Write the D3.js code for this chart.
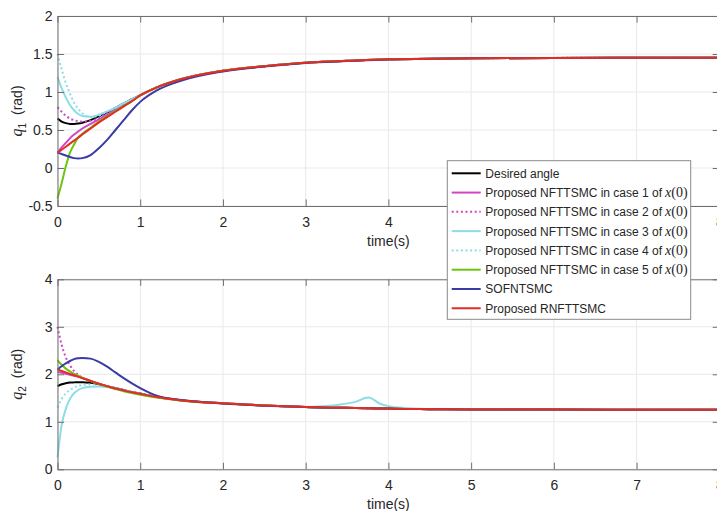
<!DOCTYPE html>
<html>
<head>
<meta charset="utf-8">
<script src="https://cdn.jsdelivr.net/npm/d3@7"></script>
<style>
  html, body { margin: 0; padding: 0; background: #fff; }
  svg { display: block; }
  text { font-family: "Liberation Sans", Arial, Helvetica, sans-serif; fill: #262626; }
</style>
</head>
<body>
<svg id="chart" width="717" height="511"></svg>
<script>
// ---- time samples (s) ----
const tTop = [0, 0.05, 0.1, 0.15, 0.2, 0.25, 0.3, 0.4, 0.5, 0.6, 0.7, 0.8, 0.9, 1.0,
              1.2, 1.5, 2, 2.5, 3, 3.5, 4, 5, 6, 7, 8];
const tBot = [0, 0.05, 0.1, 0.15, 0.2, 0.25, 0.3, 0.4, 0.5, 0.6, 0.7, 0.8, 0.9, 1.0,
              1.2, 1.5, 2, 2.5, 3, 3.2, 3.4, 3.6, 3.76, 3.9, 4, 4.2, 4.5, 5, 6, 7, 8];

// ---- joint 1 angle q1 (rad) ----
const q1Desired = [0.65, 0.61, 0.59, 0.58, 0.58, 0.585, 0.595, 0.63, 0.68, 0.73, 0.79, 0.85, 0.905, 0.96,
                   1.06, 1.17, 1.28, 1.34, 1.386, 1.41, 1.43, 1.443, 1.449, 1.451, 1.452];
const q1Case1   = [0.2, 0.27, 0.33, 0.39, 0.44, 0.48, 0.52, 0.58, 0.64, 0.70, 0.76, 0.82, 0.89, 0.955,
                   1.06, 1.17, 1.28, 1.34, 1.386, 1.41, 1.43, 1.443, 1.449, 1.451, 1.452];
const q1Case2   = [0.8, 0.74, 0.69, 0.65, 0.63, 0.615, 0.61, 0.62, 0.66, 0.72, 0.78, 0.84, 0.90, 0.96,
                   1.06, 1.17, 1.28, 1.34, 1.386, 1.41, 1.43, 1.443, 1.449, 1.451, 1.452];
const q1Case3   = [1.2, 1.05, 0.93, 0.83, 0.76, 0.71, 0.685, 0.675, 0.70, 0.745, 0.795, 0.85, 0.905, 0.96,
                   1.06, 1.17, 1.28, 1.34, 1.386, 1.41, 1.43, 1.443, 1.449, 1.451, 1.452];
const q1Case4   = [1.5, 1.30, 1.12, 0.98, 0.86, 0.78, 0.72, 0.67, 0.69, 0.74, 0.79, 0.85, 0.905, 0.96,
                   1.06, 1.17, 1.28, 1.34, 1.386, 1.41, 1.43, 1.443, 1.449, 1.451, 1.452];
const q1Case5   = [-0.4, -0.2, 0.02, 0.2, 0.31, 0.40, 0.45, 0.53, 0.61, 0.68, 0.75, 0.815, 0.88, 0.955,
                   1.06, 1.17, 1.28, 1.34, 1.386, 1.41, 1.43, 1.443, 1.449, 1.451, 1.452];
const q1Sofntsmc = [0.2, 0.185, 0.165, 0.145, 0.13, 0.125, 0.13, 0.17, 0.26, 0.37, 0.50, 0.63, 0.76, 0.87,
                    1.02, 1.15, 1.27, 1.335, 1.383, 1.408, 1.429, 1.443, 1.449, 1.451, 1.452];
const q1Rnfttsmc = [0.2, 0.24, 0.28, 0.32, 0.36, 0.40, 0.44, 0.52, 0.60, 0.67, 0.74, 0.81, 0.88, 0.955,
                    1.06, 1.17, 1.28, 1.34, 1.386, 1.41, 1.43, 1.443, 1.449, 1.451, 1.452];

// ---- joint 2 angle q2 (rad) ----
const q2Desired = [1.75, 1.79, 1.81, 1.825, 1.83, 1.835, 1.835, 1.82, 1.79, 1.75, 1.71, 1.67, 1.63, 1.595,
                   1.525, 1.455, 1.39, 1.345, 1.31, 1.30, 1.295, 1.29, 1.285, 1.28, 1.278, 1.272, 1.266, 1.26, 1.257, 1.256, 1.255];
const q2Case1   = [2.05, 2.03, 2.01, 1.99, 1.97, 1.95, 1.92, 1.86, 1.80, 1.75, 1.70, 1.66, 1.62, 1.59,
                   1.52, 1.45, 1.39, 1.345, 1.31, 1.30, 1.295, 1.29, 1.285, 1.28, 1.278, 1.272, 1.266, 1.26, 1.257, 1.256, 1.255];
const q2Case2   = [3.0, 2.62, 2.36, 2.19, 2.07, 1.99, 1.93, 1.86, 1.80, 1.75, 1.70, 1.66, 1.62, 1.59,
                   1.52, 1.45, 1.39, 1.345, 1.31, 1.30, 1.295, 1.29, 1.285, 1.28, 1.278, 1.272, 1.266, 1.26, 1.257, 1.256, 1.255];
const q2Case3   = [0.25, 0.93, 1.27, 1.48, 1.60, 1.67, 1.71, 1.74, 1.745, 1.73, 1.70, 1.66, 1.62, 1.585,
                   1.52, 1.45, 1.39, 1.345, 1.31, 1.325, 1.36, 1.42, 1.51, 1.38, 1.33, 1.29, 1.27, 1.26, 1.257, 1.256, 1.255];
const q2Case4   = [1.30, 1.48, 1.60, 1.67, 1.72, 1.755, 1.775, 1.785, 1.78, 1.75, 1.71, 1.67, 1.63, 1.595,
                   1.525, 1.455, 1.39, 1.345, 1.31, 1.30, 1.295, 1.29, 1.285, 1.28, 1.278, 1.272, 1.266, 1.26, 1.257, 1.256, 1.255];
const q2Case5   = [2.30, 2.20, 2.12, 2.06, 2.01, 1.97, 1.93, 1.86, 1.795, 1.74, 1.69, 1.645, 1.605, 1.57,
                   1.51, 1.445, 1.385, 1.343, 1.31, 1.30, 1.295, 1.29, 1.285, 1.28, 1.278, 1.272, 1.266, 1.26, 1.257, 1.256, 1.255];
const q2Sofntsmc = [2.10, 2.17, 2.23, 2.28, 2.32, 2.34, 2.345, 2.33, 2.26, 2.16, 2.04, 1.92, 1.81, 1.71,
                    1.55, 1.46, 1.385, 1.34, 1.31, 1.30, 1.295, 1.29, 1.285, 1.28, 1.278, 1.272, 1.266, 1.26, 1.257, 1.256, 1.255];
const q2Rnfttsmc = [2.10, 2.07, 2.04, 2.01, 1.98, 1.95, 1.92, 1.86, 1.80, 1.75, 1.70, 1.66, 1.62, 1.59,
                    1.52, 1.45, 1.39, 1.345, 1.31, 1.30, 1.295, 1.29, 1.285, 1.28, 1.278, 1.272, 1.266, 1.26, 1.257, 1.256, 1.255];

// ---- labels and ticks ----
const legendLabels = ["Desired angle",
  "Proposed NFTTSMC in case 1 of", "Proposed NFTTSMC in case 2 of",
  "Proposed NFTTSMC in case 3 of", "Proposed NFTTSMC in case 4 of",
  "Proposed NFTTSMC in case 5 of", "SOFNTSMC", "Proposed RNFTTSMC"];
const xTicks = [0, 1, 2, 3, 4, 5, 6, 7, 8];
const yTicksTop = [-0.5, 0, 0.5, 1, 1.5, 2];
const yTicksBot = [0, 1, 2, 3, 4];

// ---- line styles, in plotting order ----
const styles = [
  { color: "#000000", dash: null,    initCond: false },
  { color: "#d046c4", dash: null,    initCond: true },
  { color: "#d046c4", dash: "2,2.6", initCond: true },
  { color: "#8cdde6", dash: null,    initCond: true },
  { color: "#8cdde6", dash: "2,2.6", initCond: true },
  { color: "#6cc50e", dash: null,    initCond: true },
  { color: "#3b3ba6", dash: null,    initCond: false },
  { color: "#e52c22", dash: null,    initCond: false }
];

const svg = d3.select("#chart");
const x = d3.scaleLinear().domain([0, 8]).range([57.5, 719.3]);

const panels = [
  { t: tTop, y: d3.scaleLinear().domain([-0.5, 2]).range([206, 16]), ticks: yTicksTop, sub: "1",
    series: [q1Desired, q1Case1, q1Case2, q1Case3, q1Case4, q1Case5, q1Sofntsmc, q1Rnfttsmc] },
  { t: tBot, y: d3.scaleLinear().domain([0, 4]).range([469.3, 279.3]), ticks: yTicksBot, sub: "2",
    series: [q2Desired, q2Case1, q2Case2, q2Case3, q2Case4, q2Case5, q2Sofntsmc, q2Rnfttsmc] }
];

const tickLen = 6.6;
const axisColor = "#6f6f6f";

panels.forEach(p => {
  const [yb, yt] = p.y.range();
  const [xl, xr] = x.range();
  const g = svg.append("g");

  // grid
  g.append("g").selectAll("line").data(xTicks).join("line")
    .attr("x1", d => x(d)).attr("x2", d => x(d)).attr("y1", yt).attr("y2", yb)
    .attr("stroke", "#e9e9e9").attr("stroke-width", 1);
  g.append("g").selectAll("line").data(p.ticks).join("line")
    .attr("x1", xl).attr("x2", xr).attr("y1", d => p.y(d)).attr("y2", d => p.y(d))
    .attr("stroke", "#e9e9e9").attr("stroke-width", 1);

  // data lines
  const line = d3.line().x(d => x(d[0])).y(d => p.y(d[1])).curve(d3.curveMonotoneX);
  p.series.forEach((vals, i) => {
    const st = styles[i];
    g.append("path")
      .datum(p.t.map((tt, k) => [tt, vals[k]]))
      .attr("d", line)
      .attr("fill", "none")
      .attr("stroke", st.color)
      .attr("stroke-width", 2)
      .attr("stroke-linejoin", "round")
      .attr("stroke-dasharray", st.dash);
  });

  // axes (box with inward ticks)
  const fmt = d => String(d);
  const ax = (gen, tx, ty) => {
    const a = g.append("g").attr("transform", `translate(${tx},${ty})`).call(gen);
    a.select(".domain").attr("stroke", axisColor);
    a.selectAll(".tick line").attr("stroke", axisColor);
    a.selectAll(".tick text").attr("fill", "#262626")
      .style("font-family", '"Liberation Sans", Arial, sans-serif').style("font-size", "14px");
    return a;
  };
  ax(d3.axisBottom(x).tickValues(xTicks).tickFormat(fmt).tickSizeInner(-tickLen).tickSizeOuter(0).tickPadding(11), 0, yb);
  ax(d3.axisTop(x).tickValues(xTicks).tickFormat("").tickSizeInner(-tickLen).tickSizeOuter(0), 0, yt);
  ax(d3.axisLeft(p.y).tickValues(p.ticks).tickFormat(fmt).tickSizeInner(-tickLen).tickSizeOuter(0).tickPadding(5), xl, 0);
  ax(d3.axisRight(p.y).tickValues(p.ticks).tickFormat("").tickSizeInner(-tickLen).tickSizeOuter(0), xr, 0);

  // axis titles
  g.append("text")
    .attr("x", (xl + xr) / 2).attr("y", yb + 40)
    .attr("text-anchor", "middle").style("font-size", "14px")
    .text("time(s)");

  const yl = g.append("text")
    .attr("transform", `translate(22,${(yt + yb) / 2}) rotate(-90)`)
    .attr("text-anchor", "middle").style("font-size", "14px");
  yl.append("tspan").style("font-family", '"Liberation Serif", "Times New Roman", serif')
    .style("font-style", "italic").style("font-size", "16px").text("q");
  yl.append("tspan").attr("dy", 4).style("font-size", "10px").text(p.sub);
  yl.append("tspan").attr("dy", -4).attr("dx", 8).text("(rad)");
});

// legend
const lg = svg.append("g");
const lx = 447.3, ly = 160.7, lw = 243.4, lh = 158.6, rowH = 19.28;
lg.append("rect").attr("x", lx).attr("y", ly).attr("width", lw).attr("height", lh)
  .attr("fill", "#fff").attr("stroke", "#8a8a8a").attr("stroke-width", 1);
legendLabels.forEach((lab, i) => {
  const st = styles[i];
  const cy = ly + 12.6 + i * rowH;
  lg.append("line").attr("x1", lx + 4.4).attr("x2", lx + 33.4).attr("y1", cy).attr("y2", cy)
    .attr("stroke", st.color).attr("stroke-width", 2).attr("stroke-dasharray", st.dash);
  const tx = lg.append("text").attr("x", lx + 38).attr("y", cy + 4.5).style("font-size", "12px");
  tx.append("tspan").text(lab);
  if (st.initCond) {
    tx.append("tspan").attr("dx", 3).style("font-family", '"Liberation Serif", "Times New Roman", serif')
      .style("font-style", "italic").style("font-size", "14px").text("x");
    tx.append("tspan").style("font-family", '"Liberation Serif", "Times New Roman", serif')
      .style("font-size", "14px").text("(0)");
  }
});
</script>
</body>
</html>
